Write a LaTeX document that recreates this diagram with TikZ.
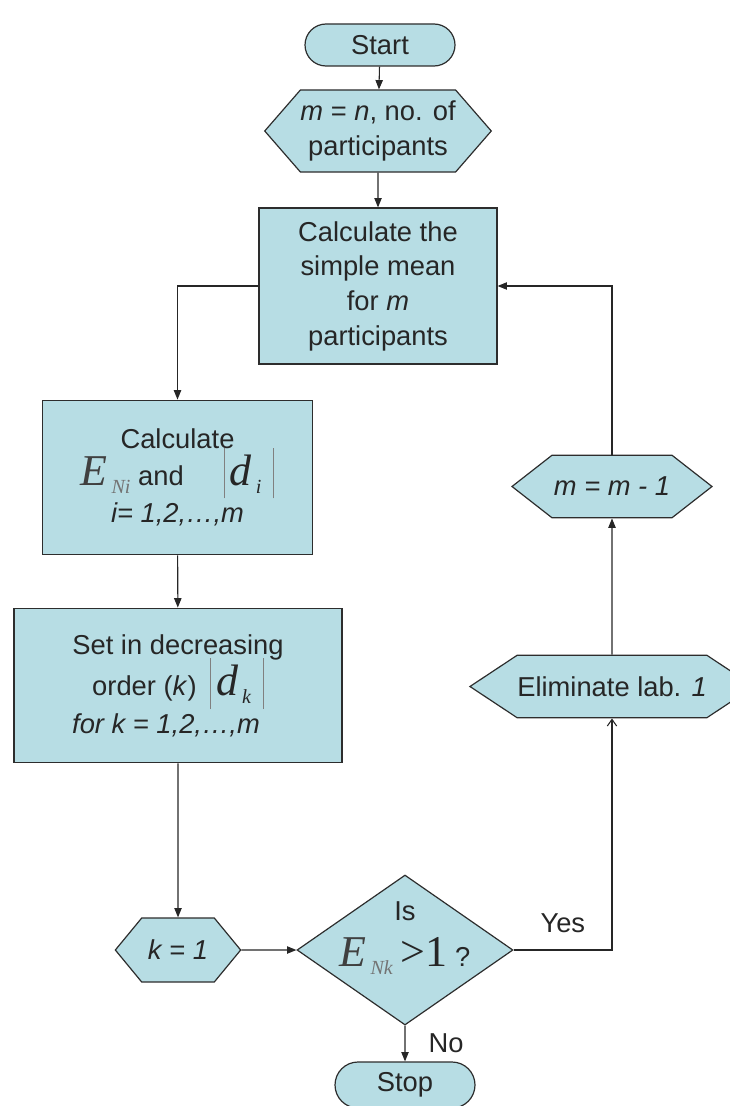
\documentclass[tikz,border=0pt]{standalone}
\usepackage{fontspec}
\setmainfont{Liberation Sans}
\newfontfamily\tmsfont{Liberation Serif}
\usetikzlibrary{shapes.geometric,shapes.misc,shapes.symbols,arrows.meta}
\definecolor{boxfill}{RGB}{183,221,228}
\definecolor{edgecol}{RGB}{45,45,45}
% large Times symbols used inside the boxes
\newcommand{\bigE}[1]{{\tmsfont\itshape\fontsize{33}{33}\selectfont\textcolor{black!75}{E}\kern3pt\raisebox{-6pt}{\fontsize{15}{15}\selectfont\textcolor{black!55}{#1}}}}
\newcommand{\absd}[1]{{\tmsfont\itshape\fontsize{33}{33}\selectfont\textcolor{black!50}{\rule[-10pt]{0.6pt}{38pt}}\kern4pt d\kern3pt\raisebox{-6pt}{\fontsize{15}{15}\selectfont #1}\kern9pt\textcolor{black!50}{\rule[-10pt]{0.6pt}{38pt}}}}
\begin{document}
\begin{tikzpicture}[x=0.75pt,y=-0.75pt,
  >={Triangle[length=7pt,width=5.5pt]},
  every node/.style={font=\fontsize{20.5}{26}\selectfont, text=black!85},
  line/.style={draw=black!85, line width=0.8pt},
  base/.style={draw=edgecol, line width=0.9pt, fill=boxfill, inner sep=0pt, align=center},
  term/.style={base, rounded rectangle},
  box/.style={base, rectangle},
  hexa/.style={base, signal, signal to=west and east},
  decide/.style={base, diamond}]
\useasboundingbox (0,0) rectangle (730,1106);

\node[term, minimum width=112.5pt, minimum height=31.5pt] (start) at (380,45) {Start};
\node[hexa, minimum width=165pt, minimum height=61.5pt, signal pointer angle=98] (init) at (378,131)
  {\textit{m} = \textit{n}, no. of\\participants};
\node[box, minimum width=178.5pt, minimum height=117pt] (mean) at (378,286)
  {Calculate the\\simple mean\\for \textit{m}\\participants};
\node[box, minimum width=203pt, minimum height=116pt] (calc) at (177.5,477.5)
  {Calculate\\[-2pt]\bigE{Ni} and\hspace{30pt}\absd{i}\\[2pt]\textit{i= 1,2,\ldots,m}};
\node[box, minimum width=246pt, minimum height=116pt] (order) at (178,685.5)
  {Set in decreasing\\[-2pt]order (\textit{k})\hspace{10pt}\absd{k}\hspace*{40pt}\\[2pt]\textit{for k = 1,2,\ldots,m}\hspace*{18pt}};
\node[hexa, minimum width=94pt, minimum height=48pt, signal pointer angle=101] (kone) at (178,950) {\textit{k = 1}};
\node[decide, minimum width=162pt, minimum height=112.5pt,
  label={[align=center, yshift=9pt]center:Is\\[9pt]\bigE{Nk}\hspace{6pt}{\tmsfont\fontsize{33}{33}\selectfont >1} ?}] (test) at (405,950) {};
\node[term, minimum width=105pt, minimum height=34.5pt] (stop) at (405,1085) {Stop};
\node[hexa, minimum width=177pt, minimum height=47pt, signal pointer angle=67] (elim) at (612,686.5) {Eliminate lab. \textit{1}};
\node[hexa, minimum width=150pt, minimum height=47pt, signal pointer angle=76] (mdec) at (612,486.5) {\textit{m = m - 1}};

\draw[line,->] (start) -- (init);
\draw[line,->] (init) -- (mean);
\draw[line,->] (mean.west) -| (calc.north);
\draw[line,->] (calc) -- (order);
\draw[line,->] (order) -- (kone);
\draw[line,->] (kone) -- (test);
\draw[line,->] (test) -- node[right=14pt] {No} (stop);
\draw[line,-{Straight Barb[length=5pt,width=7pt]}] (test.east) -| node[pos=0.25, above=9pt] {Yes} (elim.south);
\draw[line,->] (elim) -- (mdec);
\draw[line,->] (mdec.north) |- (mean.east);
\end{tikzpicture}
\end{document}
